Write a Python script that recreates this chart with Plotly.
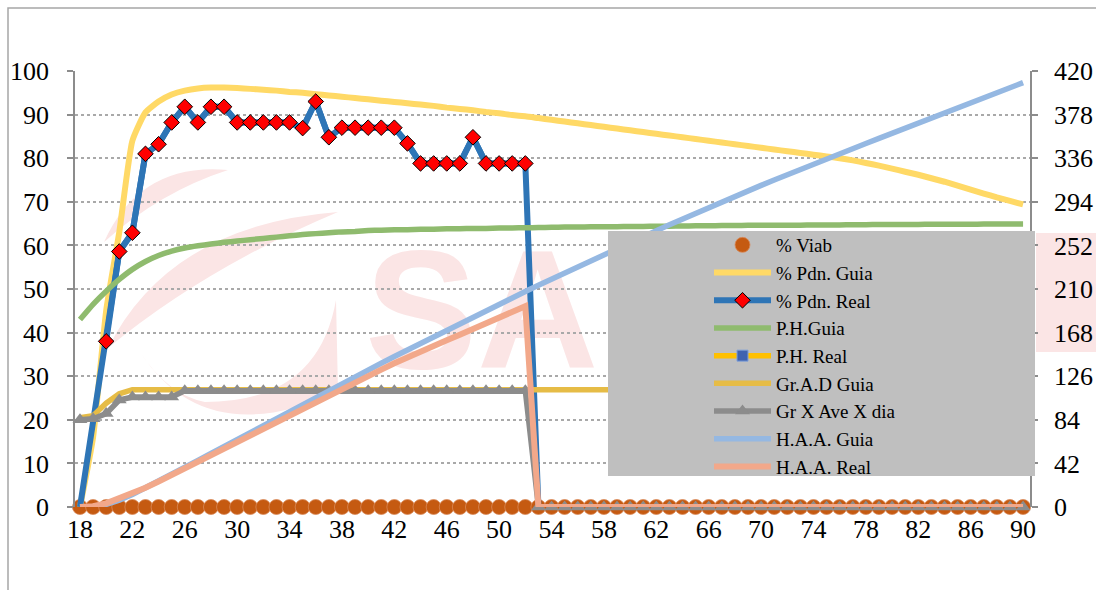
import plotly.graph_objects as go

weeks = list(range(18, 91))

viab = [0] * len(weeks)

pdn_guia = [0, 16, 45, 63, 84, 90.5, 93, 94.6, 95.5, 96, 96.2, 96.2, 96.1, 95.9, 95.7, 95.5, 95.2,
            95.0, 94.7, 94.4, 94.1, 93.8, 93.5, 93.2, 92.9, 92.6, 92.3, 92.0, 91.6, 91.3, 91.0, 90.6,
            90.3, 89.9, 89.6, 89.2, 88.8, 88.4, 88.0, 87.6, 87.2, 86.8, 86.4, 86.0, 85.6, 85.2, 84.8,
            84.4, 84.0, 83.6, 83.2, 82.8, 82.4, 82.0, 81.6, 81.2, 80.8, 80.4, 80.0, 79.5, 78.9, 78.3,
            77.6, 76.9, 76.2, 75.4, 74.6, 73.7, 72.8, 71.9, 71.0, 70.2, 69.4]

pdn_real = [0, None, 38.0, 58.6, 62.9, 81.0, 83.2, 88.2, 91.8, 88.2, 91.8, 91.8, 88.2, 88.2, 88.2,
            88.2, 88.2, 86.9, 93.0, 84.8, 87.0, 87.0, 87.0, 87.0, 87.0, 83.4, 78.8, 78.8, 78.8, 78.8,
            84.8, 78.8, 78.8, 78.8, 78.8, 0] + [None] * 37

ph_guia = [43, 46.5, 49.5, 52.2, 54.5, 56.3, 57.7, 58.7, 59.4, 59.9, 60.3, 60.7, 61.0, 61.3, 61.6,
           61.9, 62.2, 62.5, 62.7, 62.9, 63.1, 63.2, 63.4, 63.5, 63.6, 63.6, 63.7, 63.7, 63.8, 63.8,
           63.9, 63.9, 64.0, 64.0, 64.05, 64.1, 64.15, 64.2, 64.2, 64.25, 64.3, 64.3, 64.35, 64.35,
           64.4, 64.4, 64.45, 64.5, 64.5, 64.55, 64.55, 64.6, 64.6, 64.6, 64.65, 64.65, 64.7, 64.7,
           64.7, 64.75, 64.75, 64.8, 64.8, 64.8, 64.8, 64.85, 64.85, 64.85, 64.85, 64.9, 64.9, 64.9, 64.9]

ph_real = [None] * len(weeks)

gr_ad_guia = [86, 88, 100, 109] + [113] * 69

gr_ave_dia = [84, 85, 90, 103, 106, 106, 106, 106] + [112] * 27 + [0] * 38

haa_guia = [0, 0.5, 2.5, 6.5, 12, 18.3, 24.8, 31.4, 38.1, 44.8, 51.6, 58.4, 65.2, 72.0, 78.8, 85.5,
            92.2, 98.9, 105.6, 112.2, 118.8, 125.4, 132.0, 138.5, 145.0, 151.4, 157.8, 164.2, 170.5,
            176.8, 183.0, 189.2, 195.4, 201.5, 207.6, 213.6, 219.6, 225.6, 231.5, 237.4, 243.2, 249.0,
            254.8, 260.5, 266.2, 271.8, 277.4, 282.9, 288.4, 293.8, 299.2, 304.5, 309.8, 315.0, 320.2,
            325.3, 330.4, 335.4, 340.4, 345.3, 350.2, 355.1, 360.0, 364.9, 369.8, 374.7, 379.6, 384.5,
            389.4, 394.3, 399.2, 404.0, 408.8]

haa_real = [0, 0.8, 3.5, 8.0, 12.6, 18.5, 24.5, 30.9, 37.5, 43.8, 50.4, 57.0, 63.3, 69.6, 75.9, 82.2,
            88.5, 94.7, 101.4, 107.5, 113.7, 119.9, 126.1, 132.3, 138.5, 144.4, 149.8, 155.2, 160.6,
            166.0, 171.8, 177.2, 182.6, 188.0, 193.4] + [0] * 38

left_ticks = list(range(0, 101, 10))
right_ticks = list(range(0, 421, 42))
x_ticks = list(range(18, 91, 4))

SERIF = "Liberation Serif, Times New Roman, serif"

# plot area in pixels
L, R, T, B = 75, 1030, 71, 507
W, H = 1096, 590


def px_x(p):
    return (p - L) / (R - L)


def px_y(p):
    return (B - p) / (B - T)


def ppath(points):
    parts = []
    for cmd, pts in points:
        coords = " ".join(f"{px_x(a):.4f},{px_y(b):.4f}" for a, b in pts)
        parts.append(f"{cmd} {coords}")
    return " ".join(parts) + " Z"


fig = go.Figure()

fig.add_trace(go.Scatter(x=weeks, y=viab, name="% Viab", mode="markers", cliponaxis=False,
                         marker=dict(symbol="circle", size=15, color="#C55A11",
                                     line=dict(color="#D98A5A", width=0.8))))
fig.add_trace(go.Scatter(x=weeks, y=pdn_guia, name="% Pdn. Guia", mode="lines", cliponaxis=False,
                         line=dict(color="#FFD966", width=6, shape="spline", smoothing=0.5)))
# full line of % Pdn. Real (including the zero end points, which carry no marker)
fig.add_trace(go.Scatter(x=weeks, y=pdn_real, name="% Pdn. Real", mode="lines", cliponaxis=False,
                         connectgaps=True, showlegend=False, hoverinfo="skip",
                         line=dict(color="#2E75B6", width=6)))
fig.add_trace(go.Scatter(x=weeks, y=[v if (v is not None and v > 0) else None for v in pdn_real],
                         name="% Pdn. Real", mode="lines+markers", cliponaxis=False,
                         line=dict(color="#2E75B6", width=6),
                         marker=dict(symbol="diamond", color="#FF0000", size=12,
                                     line=dict(color="#000000", width=1))))
fig.add_trace(go.Scatter(x=weeks, y=ph_guia, name="P.H.Guia", mode="lines", cliponaxis=False,
                         line=dict(color="#8FBB6E", width=5.5, shape="spline", smoothing=0.5)))
fig.add_trace(go.Scatter(x=weeks, y=ph_real, name="P.H. Real", mode="lines+markers",
                         line=dict(color="#FFC000", width=5.5),
                         marker=dict(symbol="square", color="#3F62B0", size=11,
                                     line=dict(color="#7F9FD8", width=1))))
fig.add_trace(go.Scatter(x=weeks, y=gr_ad_guia, name="Gr.A.D Guia", mode="lines", yaxis="y2",
                         cliponaxis=False, line=dict(color="#E6BC46", width=5.5)))
fig.add_trace(go.Scatter(x=weeks, y=gr_ave_dia, name="Gr X Ave X dia", mode="lines+markers", yaxis="y2",
                         cliponaxis=False, line=dict(color="#8C8C8C", width=5.5),
                         marker=dict(symbol="triangle-up", color="#8C8C8C", size=13)))
fig.add_trace(go.Scatter(x=weeks, y=haa_guia, name="H.A.A. Guia", mode="lines", yaxis="y2",
                         cliponaxis=False, line=dict(color="#95B8E2", width=5.5)))
fig.add_trace(go.Scatter(x=weeks, y=haa_real, name="H.A.A. Real", mode="lines", yaxis="y2",
                         cliponaxis=False, line=dict(color="#F2A88A", width=6)))

PINK = "#FBE5E5"
shapes = [
    # outer chart border
    dict(type="rect", xref="paper", yref="paper", x0=px_x(8), x1=px_x(1110), y0=px_y(610), y1=px_y(8),
         line=dict(color="#A6A6A6", width=1.5), fillcolor="rgba(0,0,0,0)", layer="below"),
    # watermark swirl (approximate)
    dict(type="path", xref="paper", yref="paper", layer="below", line=dict(width=0), fillcolor=PINK,
         path=ppath([("M", [(104, 242)]), ("Q", [(140, 162), (228, 170)]), ("Q", [(160, 192), (104, 242)])])),
    dict(type="path", xref="paper", yref="paper", layer="below", line=dict(width=0), fillcolor=PINK,
         path=ppath([("M", [(108, 348)]), ("Q", [(170, 225), (338, 212)]), ("Q", [(205, 268), (108, 348)])])),
    dict(type="path", xref="paper", yref="paper", layer="below", line=dict(width=0), fillcolor=PINK,
         path=ppath([("M", [(140, 352)]), ("Q", [(205, 452), (338, 392)]), ("L", [(336, 300)]),
                     ("Q", [(318, 402), (205, 402)]), ("Q", [(168, 395), (140, 352)])])),
    # watermark text
    dict(type="rect", xref="paper", yref="paper", x0=px_x(362), x1=px_x(900), y0=px_y(360), y1=px_y(228),
         line=dict(width=0), fillcolor="rgba(0,0,0,0)", layer="below",
         label=dict(text="SA", textposition="middle left", padding=0,
                    font=dict(family="Liberation Sans, Arial, sans-serif", size=168,
                              color=PINK, weight="bold"))),
    # watermark piece at right edge
    dict(type="rect", xref="paper", yref="paper", x0=px_x(1036), x1=px_x(1100), y0=px_y(352), y1=px_y(233),
         line=dict(width=0), fillcolor=PINK, layer="below"),
    # legend background
    dict(type="rect", xref="paper", yref="paper", x0=px_x(608), x1=px_x(1035), y0=px_y(476), y1=px_y(231),
         line=dict(width=0), fillcolor="#BFBFBF", layer="above"),
]

fig.update_layout(
    width=W, height=H, autosize=False,
    margin=dict(l=L, r=W - R, t=T, b=H - B, pad=0, autoexpand=False),
    paper_bgcolor="#FFFFFF", plot_bgcolor="rgba(0,0,0,0)",
    font=dict(family=SERIF, color="#000000", size=26),
    showlegend=True,
    legend=dict(x=px_x(709), y=px_y(226), xanchor="left", yanchor="top",
                bgcolor="rgba(0,0,0,0)", borderwidth=0,
                font=dict(family=SERIF, size=19, color="#000000"),
                itemwidth=57, traceorder="normal"),
    shapes=shapes,
    xaxis=dict(range=[17.62, 90.53], tickmode="array", tickvals=x_ticks, automargin=False,
               ticktext=[str(v) for v in x_ticks], showgrid=False, zeroline=False,
               showline=False, ticks="", tickfont=dict(family=SERIF, size=26),
               ticklabelstandoff=4),
    yaxis=dict(range=[0, 100], tickmode="array", tickvals=left_ticks, automargin=False,
               ticktext=[str(v) for v in left_ticks],
               showgrid=True, gridcolor="#A9A9A9", griddash="dot", gridwidth=1.5,
               zeroline=False, showline=True, linecolor="#8C8C8C", linewidth=1.5,
               ticks="outside", ticklen=6, tickcolor="#8C8C8C", tickwidth=1.5,
               tickfont=dict(family=SERIF, size=26), ticklabelstandoff=13),
    yaxis2=dict(range=[0, 420], overlaying="y", side="right", tickmode="array", automargin=False,
                tickvals=right_ticks, ticktext=[str(v) for v in right_ticks],
                showgrid=False, zeroline=False, showline=True, linecolor="#8C8C8C", linewidth=1.5,
                ticks="outside", ticklen=6, tickcolor="#8C8C8C", tickwidth=1.5,
                tickfont=dict(family=SERIF, size=26), ticklabelstandoff=11),
)

fig.write_html("out.html", post_script="document.body.style.margin='0';",
               config={"displayModeBar": False})
